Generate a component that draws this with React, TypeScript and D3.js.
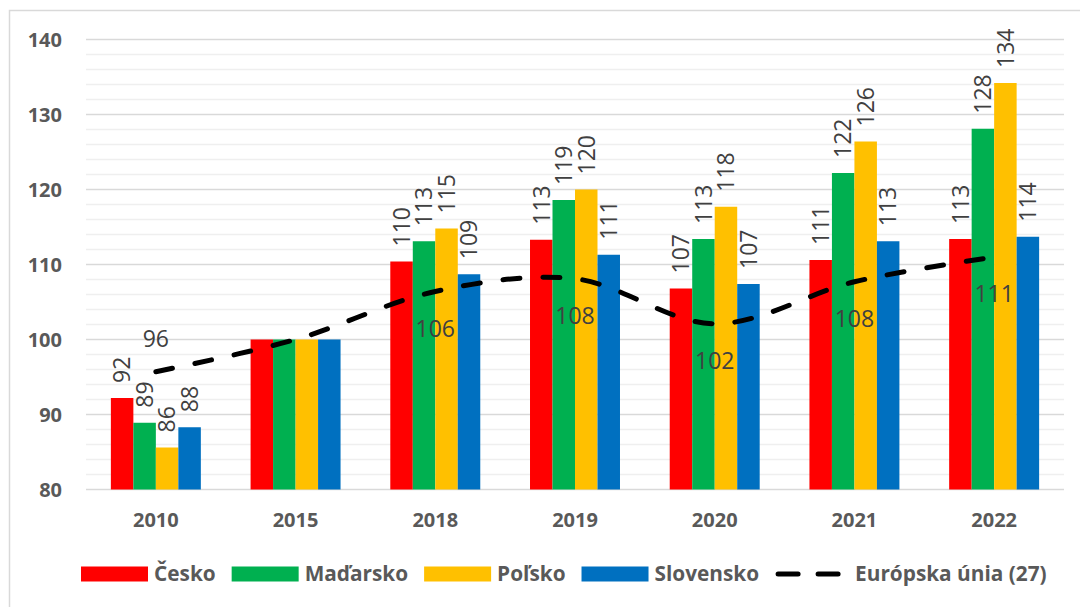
import React, { useEffect, useRef } from 'react';
import * as d3 from 'd3';

// Data
const years = ['2010', '2015', '2018', '2019', '2020', '2021', '2022'];
const seriesNames = ['Česko', 'Maďarsko', 'Poľsko', 'Slovensko'];
const cesko = [92.2, 100, 110.4, 113.3, 106.8, 110.6, 113.4];
const madarsko = [88.9, 100, 113.1, 118.6, 113.4, 122.2, 128.1];
const polsko = [85.6, 100, 114.8, 120.0, 117.7, 126.4, 134.2];
const slovensko = [88.3, 100, 108.7, 111.3, 107.4, 113.1, 113.7];
const euName = 'Európska únia (27)';
const eu = [95.7, 100, 106.4, 108.1, 102.1, 107.7, 111.0];
const yTicks = [80, 90, 100, 110, 120, 130, 140];

const colors = ['#ff0000', '#00b050', '#ffc000', '#0070c0'];
const FONT = "'Open Sans', 'DejaVu Sans', sans-serif";

const App = () => {
  const chartRef = useRef<SVGSVGElement | null>(null);

  useEffect(() => {
    const svg = d3.select(chartRef.current);
    svg.selectAll('*').remove();

    const left = 86;
    const right = 1064;
    const top = 39.5;
    const bottom = 489.5;

    const seriesValues = [cesko, madarsko, polsko, slovensko];

    // outer frame
    svg.append('rect')
      .attr('x', 9.5)
      .attr('y', 10.5)
      .attr('width', 1200)
      .attr('height', 800)
      .attr('fill', 'white')
      .attr('stroke', '#d9d9d9')
      .attr('stroke-width', 1.5);

    const x = d3.scaleBand()
      .domain(years)
      .range([left, right])
      .paddingInner(0.356)
      .paddingOuter(0.178);

    const x1 = d3.scaleBand()
      .domain(seriesNames)
      .range([0, x.bandwidth()]);

    const y = d3.scaleLinear()
      .domain([80, 140])
      .range([bottom, top]);

    // minor gridlines
    svg.append('g')
      .selectAll('line')
      .data(d3.range(80, 141, 2).filter(v => v % 10 !== 0))
      .enter()
      .append('line')
      .attr('x1', left)
      .attr('x2', right)
      .attr('y1', d => y(d))
      .attr('y2', d => y(d))
      .attr('stroke', '#efefef')
      .attr('stroke-width', 1.5);

    // major gridlines
    svg.append('g')
      .selectAll('line')
      .data(yTicks)
      .enter()
      .append('line')
      .attr('x1', left)
      .attr('x2', right)
      .attr('y1', d => y(d))
      .attr('y2', d => y(d))
      .attr('stroke', '#d9d9d9')
      .attr('stroke-width', 1.5);

    // y tick labels
    svg.append('g')
      .selectAll('text')
      .data(yTicks)
      .enter()
      .append('text')
      .attr('x', 62)
      .attr('y', d => y(d))
      .attr('dy', '0.36em')
      .attr('text-anchor', 'end')
      .attr('font-family', FONT)
      .attr('font-weight', 700)
      .attr('font-size', '20px')
      .attr('fill', '#595959')
      .text(d => d);

    // x labels
    svg.append('g')
      .selectAll('text')
      .data(years)
      .enter()
      .append('text')
      .attr('x', d => (x(d) as number) + x.bandwidth() / 2)
      .attr('y', 527)
      .attr('text-anchor', 'middle')
      .attr('font-family', FONT)
      .attr('font-weight', 700)
      .attr('font-size', '20px')
      .attr('fill', '#595959')
      .text(d => d);

    // bars
    seriesNames.forEach((name, s) => {
      svg.append('g')
        .selectAll('rect')
        .data(seriesValues[s])
        .enter()
        .append('rect')
        .attr('x', (d, i) => (x(years[i]) as number) + (x1(name) as number))
        .attr('y', d => y(d))
        .attr('width', x1.bandwidth())
        .attr('height', d => bottom - y(d))
        .attr('fill', colors[s]);
    });

    // EU line
    const line = d3.line<number>()
      .x((d, i) => (x(years[i]) as number) + x.bandwidth() / 2)
      .y(d => y(d))
      .curve(d3.curveCatmullRom.alpha(0.5));

    svg.append('path')
      .datum(eu)
      .attr('d', line)
      .attr('fill', 'none')
      .attr('stroke', 'black')
      .attr('stroke-width', 5)
      .attr('stroke-linecap', 'round')
      .attr('stroke-dasharray', '17 23');

    // bar labels (2015 is the base year, not labelled)
    seriesNames.forEach((name, s) => {
      svg.append('g')
        .selectAll('text')
        .data(seriesValues[s].map((v, i) => ({ v, i })).filter(d => years[d.i] !== '2015'))
        .enter()
        .append('text')
        .attr('transform', d => {
          const cx = (x(years[d.i]) as number) + (x1(name) as number) + x1.bandwidth() / 2;
          return `translate(${cx},${y(d.v) - 15}) rotate(-90)`;
        })
        .attr('dy', '0.36em')
        .attr('text-anchor', 'start')
        .attr('font-family', FONT)
        .attr('font-size', '23px')
        .attr('fill', '#404040')
        .text(d => Math.round(d.v));
    });

    // EU labels
    svg.append('g')
      .selectAll('text')
      .data(eu.map((v, i) => ({ v, i })).filter(d => years[d.i] !== '2015'))
      .enter()
      .append('text')
      .attr('x', d => (x(years[d.i]) as number) + x.bandwidth() / 2)
      .attr('y', d => y(d.v) + (d.i === 0 ? -33 : 37))
      .attr('dy', '0.36em')
      .attr('text-anchor', 'middle')
      .attr('font-family', FONT)
      .attr('font-size', '23px')
      .attr('fill', '#404040')
      .text(d => Math.round(d.v));

    // Legend
    const legend = svg.append('g');
    const ly = 574;
    let lx = 81;
    seriesNames.forEach((name, s) => {
      legend.append('rect')
        .attr('x', lx)
        .attr('y', ly - 7.5)
        .attr('width', 67)
        .attr('height', 15)
        .attr('fill', colors[s]);
      const t = legend.append('text')
        .attr('x', lx + 73)
        .attr('y', ly)
        .attr('dy', '0.36em')
        .attr('font-family', FONT)
        .attr('font-weight', 700)
        .attr('font-size', '20.8px')
        .attr('fill', '#595959')
        .text(name);
      lx = lx + 73 + (t.node() as SVGTextElement).getComputedTextLength() + 16;
    });
    legend.append('line')
      .attr('x1', lx + 3)
      .attr('x2', lx + 64)
      .attr('y1', ly)
      .attr('y2', ly)
      .attr('stroke', 'black')
      .attr('stroke-width', 5)
      .attr('stroke-linecap', 'round')
      .attr('stroke-dasharray', '20 20');
    legend.append('text')
      .attr('x', lx + 80)
      .attr('y', ly)
      .attr('dy', '0.36em')
      .attr('font-family', FONT)
      .attr('font-weight', 700)
      .attr('font-size', '20.8px')
      .attr('fill', '#595959')
      .text(euName);
  }, []);

  return (
    <svg
      ref={chartRef}
      width={1080}
      height={607}
      style={{ position: 'absolute', left: 0, top: 0, background: 'white' }}
    />
  );
};

export default App;
